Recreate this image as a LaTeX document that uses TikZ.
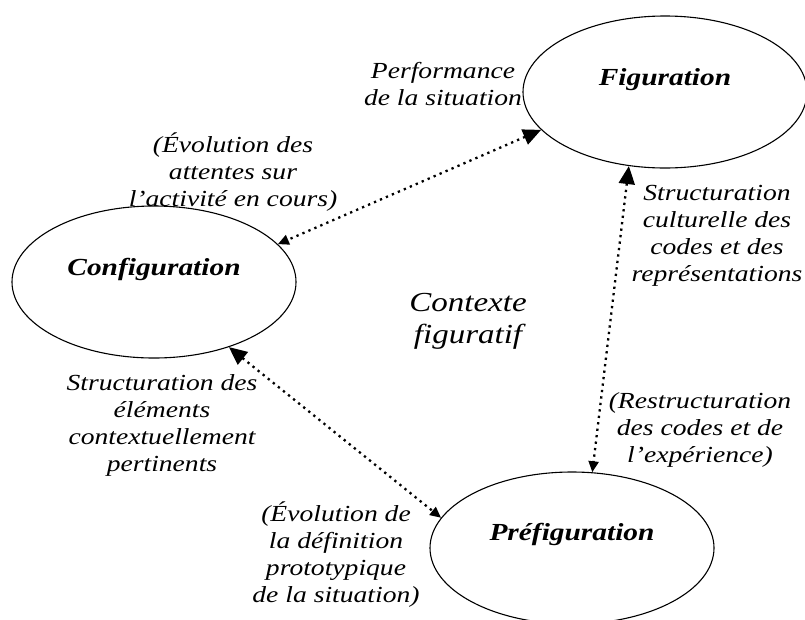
\documentclass[tikz,border=0pt]{standalone}
\usepackage{fontspec}
\setmainfont{Liberation Serif}[FakeStretch=1.2]
\usetikzlibrary{shapes.geometric}
\usetikzlibrary{arrows.meta}

\begin{document}
\begin{tikzpicture}
    [
    x=1pt, y=-1pt,
    phase/.style={ellipse,draw,line width=1.1pt,inner sep=0pt,minimum width=284pt,minimum height=152pt},
    title/.style={font=\fontsize{24.5}{28}\selectfont\bfseries\itshape},
    note/.style={align=center,font=\fontsize{23}{27}\selectfont\itshape},
    link/.style={line width=2.3pt,dash pattern=on 2.3pt off 4.2pt,
      arrows={Triangle[length=18pt,width=16pt]-Triangle[length=11pt,width=10pt]}},
    ]
    \useasboundingbox (0,0) rectangle (805,619);

    \node (fig) at (665,92) [phase, label={[title,yshift=12pt]center:Figuration}] {};
    \node (conf) at (154,282) [phase, label={[title,yshift=13pt]center:Configuration}] {};
    \node (pref) at (572,548) [phase, label={[title,yshift=14pt]center:Préfiguration}] {};

    \draw [link] (fig.197) to (conf.17);
    \draw [link] (conf.-41) to (pref.167);
    \draw [link] (fig.244) to (pref.75);

    \node (perf) at (443,84) [note] {Performance\\de la situation};
    \node (attentes) at (233,172) [note] {(Évolution des\\attentes sur\\l’activité en cours)};
    \node (culture) at (717,236) [note] {Structuration\\culturelle des\\codes et des\\représentations};
    \node (ctx) at (468,321) [note, font=\fontsize{27.5}{32}\selectfont\itshape] {Contexte\\figuratif};
    \node (elements) at (162,425) [note] {Structuration des\\éléments\\contextuellement\\pertinents};
    \node (restr) at (700,430) [note] {(Restructuration\\des codes et de\\l’expérience)};
    \node (proto) at (336,555) [note] {(Évolution de\\la définition\\prototypique\\de la situation)};
  \end{tikzpicture}
\end{document}
